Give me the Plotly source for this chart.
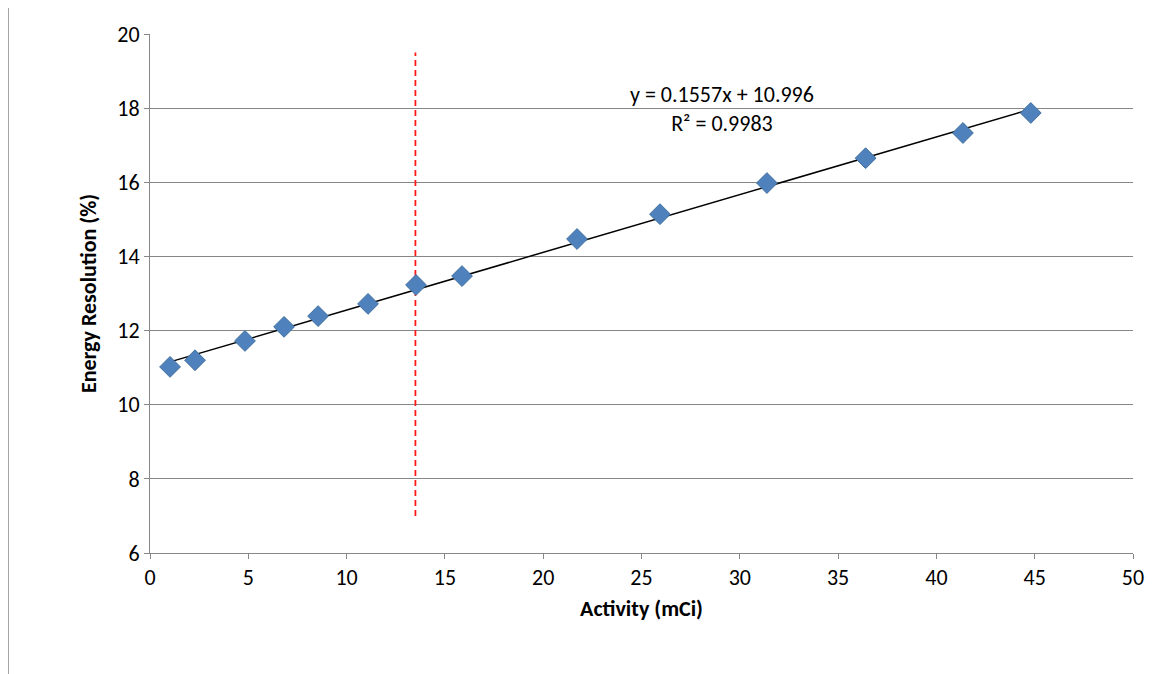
import plotly.graph_objects as go

# data
activity = [1.02, 2.29, 4.83, 6.82, 8.55, 11.09, 13.53, 15.87, 21.72, 25.94, 31.38, 36.4, 41.35, 44.8]
resolution = [11.02, 11.2, 11.72, 12.1, 12.39, 12.72, 13.23, 13.47, 14.47, 15.14, 15.98, 16.65, 17.33, 17.87]
slope, intercept = 0.1557, 10.996
cutoff_x = [13.5, 13.5]
cutoff_y = [7, 19.5]

fit_x = [activity[0], activity[-1]]
fit_y = [slope * v + intercept for v in fit_x]

fig = go.Figure()
fig.add_trace(go.Scatter(x=fit_x, y=fit_y, mode='lines',
                         line=dict(color='black', width=1.5), showlegend=False))
fig.add_trace(go.Scatter(x=cutoff_x, y=cutoff_y, mode='lines',
                         line=dict(color='#ff1a1a', width=1.8, dash='6px,4px'), showlegend=False))
fig.add_trace(go.Scatter(x=activity, y=resolution, mode='markers',
                         marker=dict(symbol='diamond', size=16, color='#4f81bd',
                                     line=dict(color='#41709e', width=1)),
                         showlegend=False))

fig.add_annotation(x=29.1, y=17.97, xref='x', yref='y', showarrow=False,
                   text='y = 0.1557x + 10.996<br>R² = 0.9983',
                   font=dict(size=22, color='black'), align='center')

fig.update_xaxes(range=[0, 50], dtick=5, showgrid=False, showline=True, linecolor='#868686',
                 ticks='outside', ticklen=5, tickcolor='#868686',
                 tickfont=dict(size=22, color='black'),
                 title=dict(text='<b>Activity (mCi)</b>', font=dict(size=22, color='black'), standoff=10))
fig.update_yaxes(range=[6, 20], dtick=2, showgrid=True, gridcolor='#868686', gridwidth=1,
                 showline=True, linecolor='#868686', ticks='outside', ticklen=5, tickcolor='#868686',
                 tickfont=dict(size=22, color='black'), zeroline=False,
                 title=dict(text='<b>Energy Resolution (%)</b>', font=dict(size=22, color='black'), standoff=14))

fig.update_layout(width=1169, height=674, plot_bgcolor='white', paper_bgcolor='white',
                  margin=dict(l=142, r=44, t=26, b=129),
                  font=dict(family='Carlito, Open Sans, Liberation Sans, sans-serif'))
fig.add_shape(type='line', xref='paper', yref='paper', x0=-0.144, x1=-0.144, y0=1.06, y1=-0.24,
              line=dict(color='#a0a0a0', width=1))

fig.write_html("out.html")
